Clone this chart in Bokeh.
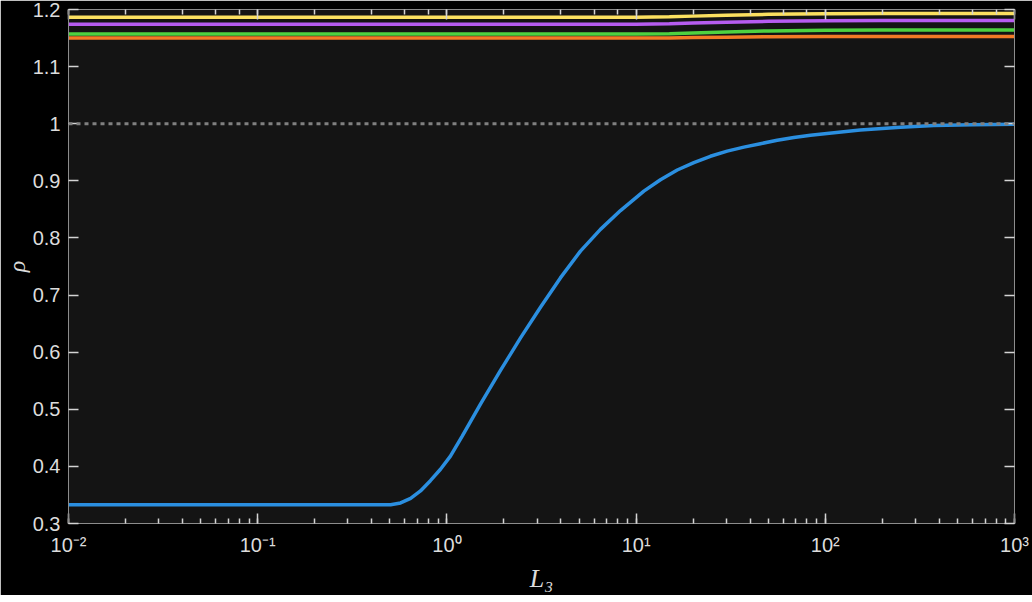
from bokeh.plotting import figure
from bokeh.models import (LogAxis, LinearAxis, FixedTicker, LogTicker,
                          CustomJSTickFormatter, Span)
from bokeh.embed import file_html
from bokeh.resources import INLINE

# blue curve
L_blue = [0.01, 0.1, 0.3, 0.504, 0.569, 0.643, 0.725, 0.818, 0.925, 1.044,
          1.205, 1.51, 1.92, 2.45, 3.13, 3.98, 5.08, 6.48, 8.27, 10.99,
          13.45, 16.5, 20.2, 24.7, 30.3, 37.1, 45.4, 55.7, 68.2, 83.5, 102,
          125, 153, 250, 375, 600, 1000]
rho_blue = [0.333, 0.333, 0.333, 0.333, 0.336, 0.344, 0.357, 0.375, 0.395, 0.418,
            0.453, 0.510, 0.568, 0.625, 0.679, 0.730, 0.777, 0.815, 0.848, 0.882,
            0.902, 0.919, 0.932, 0.943, 0.952, 0.959, 0.965, 0.971, 0.976, 0.980, 0.983,
            0.986, 0.989, 0.994, 0.997, 0.998, 0.999]

# the four lines near the top
L_top = [0.01, 10, 15, 20, 30, 50, 100, 200, 1000]
rho_yellow = [1.1865, 1.1865, 1.1871, 1.1884, 1.1900, 1.1915, 1.1925, 1.1928, 1.1928]
rho_purple = [1.1743, 1.1743, 1.1749, 1.1762, 1.1778, 1.1793, 1.1803, 1.1806, 1.1806]
rho_green = [1.1569, 1.1569, 1.1576, 1.1590, 1.1608, 1.1625, 1.1636, 1.1639, 1.1639]
rho_orange = [1.1500, 1.1500, 1.1503, 1.1508, 1.1515, 1.1522, 1.1527, 1.1528, 1.1528]

y_ticks = [0.3, 0.4, 0.5, 0.6, 0.7, 0.8, 0.9, 1.0, 1.1, 1.2]

axis_gray = "#8c8c8c"
tick_gray = "#d4d4d4"
label_gray = "#dcdcdc"

p = figure(frame_width=946, frame_height=514,
           x_axis_type="log", x_range=(0.01, 1000), y_range=(0.3, 1.2),
           output_backend="svg", toolbar_location=None,
           background_fill_color="#141414", border_fill_color="black",
           min_border_left=10, min_border_right=18, min_border_top=9,
           min_border_bottom=10)
p.grid.visible = False
p.outline_line_color = axis_gray

sup_code = """
const e = Math.round(Math.log10(tick));
const sup = {"-": "\u207b", "0": "\u2070", "1": "\u00b9", "2": "\u00b2", "3": "\u00b3",
             "4": "\u2074", "5": "\u2075", "6": "\u2076", "7": "\u2077", "8": "\u2078", "9": "\u2079"};
return "10" + String(e).split("").map(c => sup[c]).join("");
"""
dec_code = "return (Math.round(tick * 10) / 10).toString();"

bottom_axis = p.below[0]
left_axis = p.left[0]
bottom_axis.formatter = CustomJSTickFormatter(code=sup_code)
left_axis.ticker = FixedTicker(ticks=y_ticks)
left_axis.formatter = CustomJSTickFormatter(code=dec_code)

# mirrored axes, labels made invisible
top_axis = LogAxis(ticker=LogTicker())
right_axis = LinearAxis(ticker=FixedTicker(ticks=y_ticks))
p.add_layout(top_axis, "above")
p.add_layout(right_axis, "right")

for ax in (bottom_axis, left_axis, top_axis, right_axis):
    ax.axis_line_color = axis_gray
    ax.major_tick_line_color = tick_gray
    ax.minor_tick_line_color = tick_gray
    ax.major_tick_line_width = 1.5
    ax.minor_tick_line_width = 1.5
    ax.major_tick_in = 10
    ax.major_tick_out = 0
    ax.minor_tick_in = 5
    ax.minor_tick_out = 0
    ax.major_label_text_color = label_gray
    ax.major_label_text_font = "Liberation Sans"
    ax.major_label_text_font_size = "20px"
    ax.axis_label_text_color = label_gray
    ax.axis_label_text_font = "Liberation Serif"
    ax.axis_label_text_font_style = "italic"

# no minor ticks on the y side
left_axis.minor_tick_in = 0
right_axis.minor_tick_in = 0

for ax in (top_axis, right_axis):
    ax.major_label_text_font_size = "1px"
    ax.major_label_text_alpha = 0
    ax.major_label_standoff = 0

bottom_axis.major_label_standoff = 10
left_axis.major_label_standoff = 8
bottom_axis.axis_label = "L\u2083"
bottom_axis.axis_label_text_font_size = "26px"
bottom_axis.axis_label_standoff = 5
left_axis.axis_label = "\u03c1"
left_axis.axis_label_text_font_size = "24px"
left_axis.axis_label_standoff = 0

# dotted reference at 1
p.add_layout(Span(location=1.0, dimension="width", line_color="#808080",
                  line_width=3, line_dash="4 4"))

p.line(L_top, rho_orange, line_color="#f27a25", line_width=3.5)
p.line(L_top, rho_green, line_color="#4ed140", line_width=3.5)
p.line(L_top, rho_purple, line_color="#b65cf0", line_width=3.5)
p.line(L_top, rho_yellow, line_color="#fbe060", line_width=3.5)
p.line(L_blue, rho_blue, line_color="#2b8fe0", line_width=3.5)

open("out.html", "w").write(file_html(p, INLINE))
